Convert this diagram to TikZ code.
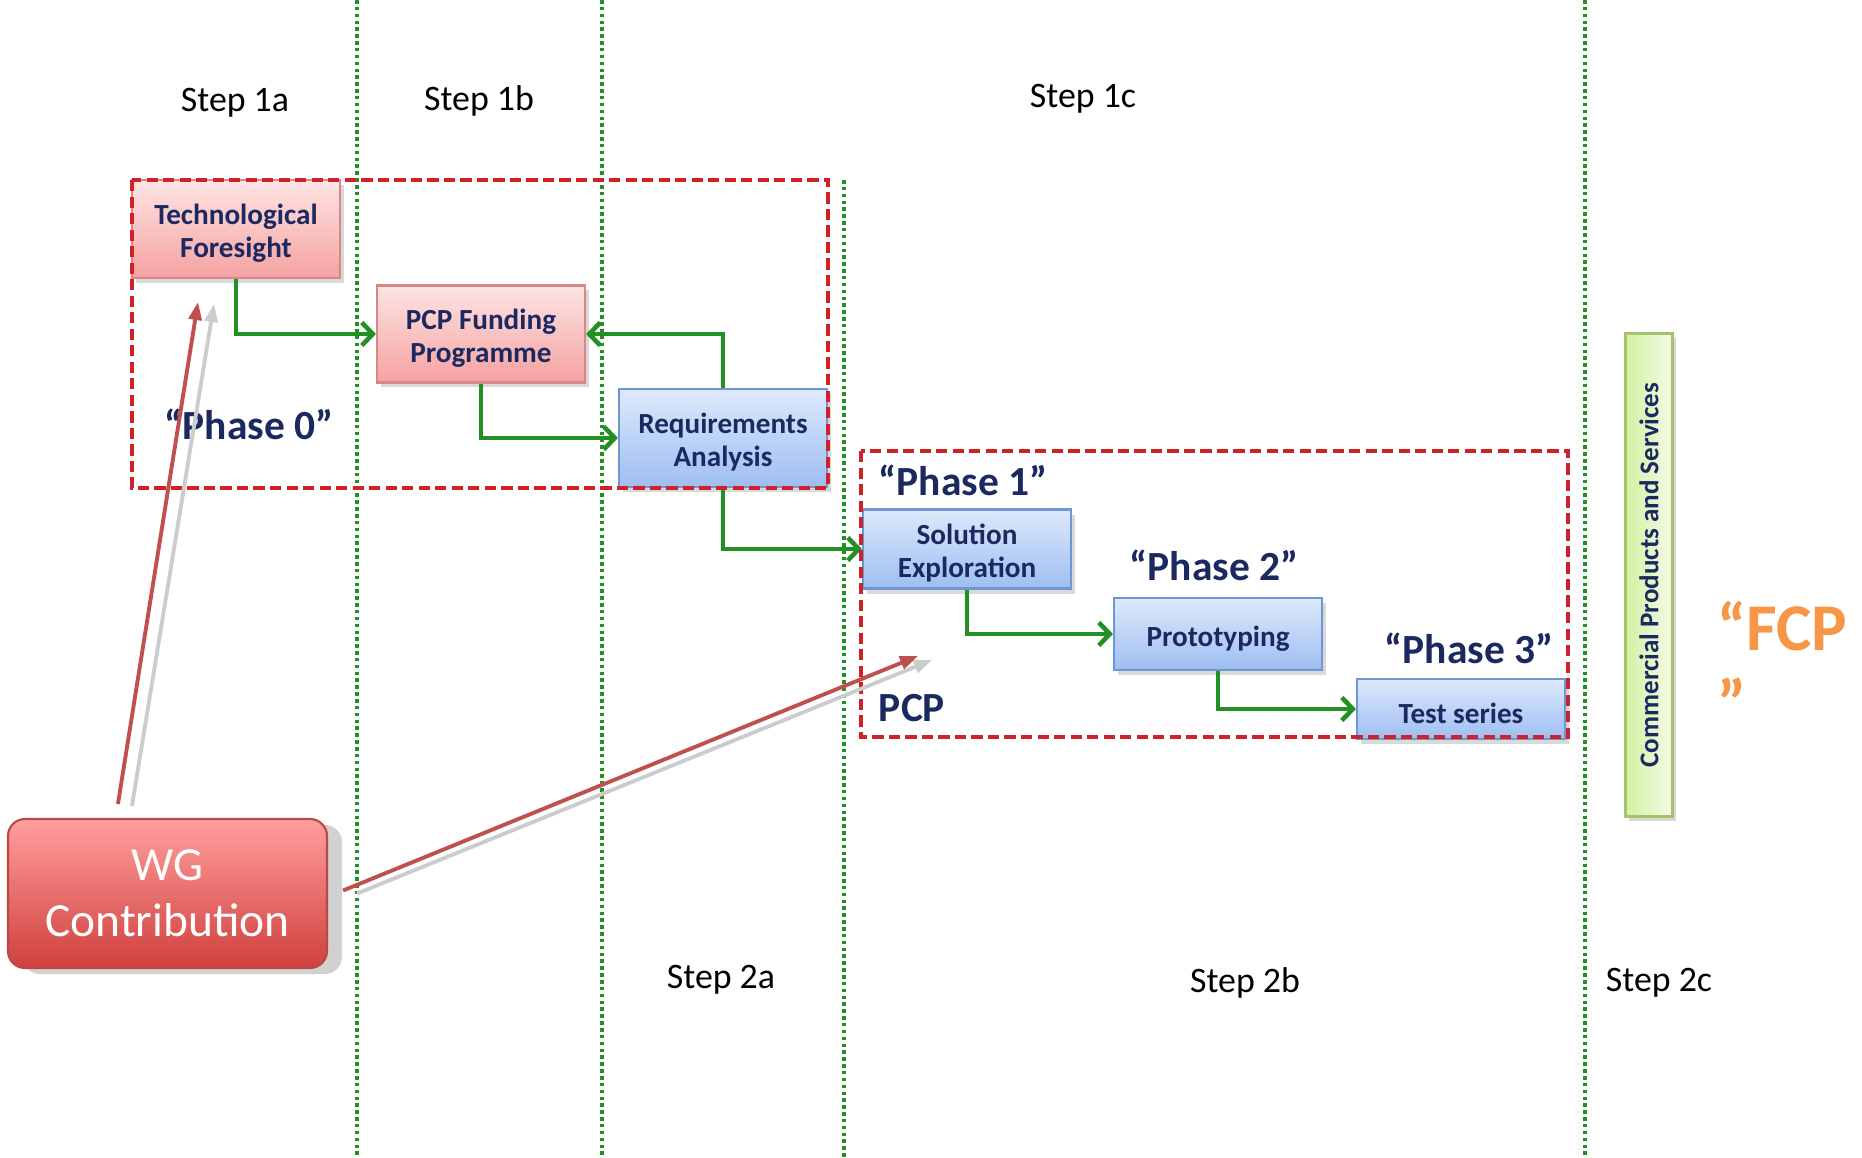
\documentclass[tikz,border=0pt]{standalone}
\usepackage{fontspec}
\setmainfont{Carlito}
\usetikzlibrary{arrows.meta,shadows}

\definecolor{navy}{HTML}{1C2860}
\definecolor{pinktop}{HTML}{FEE4E3}
\definecolor{pinkbot}{HTML}{F4A2A1}
\definecolor{pinkline}{HTML}{D58886}
\definecolor{bluetop}{HTML}{DEE9FB}
\definecolor{bluebot}{HTML}{9DBEF2}
\definecolor{blueline}{HTML}{6E96D2}
\definecolor{limetop}{HTML}{F3FBE6}
\definecolor{limebot}{HTML}{D3F1A2}
\definecolor{limeline}{HTML}{A5C46A}
\definecolor{wgtop}{HTML}{FF9F9D}
\definecolor{wgbot}{HTML}{CF403D}
\definecolor{wgline}{HTML}{BC4744}
\definecolor{phasered}{HTML}{D0202A}
\definecolor{flowgreen}{HTML}{239023}
\definecolor{arrowred}{HTML}{C0504D}
\definecolor{fcporange}{HTML}{F79646}

\tikzset{
  box/.style={draw, line width=.6pt, minimum width=2.08cm, inner sep=1pt, align=center,
    font=\fontsize{8.3}{9.4}\selectfont\bfseries, text=navy,
    drop shadow={shadow xshift=.04cm, shadow yshift=-.05cm, opacity=.3}},
  twoline/.style={text height=17.7pt},
  oneline/.style={text height=8.3pt},
  pinkbox/.style={box, draw=pinkline, top color=pinktop, bottom color=pinkbot},
  bluebox/.style={box, draw=blueline, top color=bluetop, bottom color=bluebot},
  steplabel/.style={font=\fontsize{10.2}{12}\selectfont},
  phaselabel/.style={font=\fontsize{11.8}{14}\selectfont\bfseries, text=navy},
  stepline/.style={flowgreen, line width=1pt, dash pattern=on 1pt off 0.95pt},
  phasebox/.style={phasered, line width=1.1pt, dash pattern=on 3.2pt off 1.5pt},
  flow/.style={flowgreen, line width=1.3pt, -{Straight Barb[length=1.1mm,width=2.3mm]}},
  wgarrow/.style={arrowred, line width=1.1pt, -{Triangle[length=1.8mm,width=1.3mm]}},
  wgshadow/.style={black!20, line width=1.1pt, -{Triangle[length=1.8mm,width=1.3mm]}}
}

\begin{document}
\begin{tikzpicture}
\useasboundingbox (0,0) rectangle (18.62,-11.58);

\foreach \x in {3.57, 6.02, 15.85}
	\draw[stepline] (\x,0) -- (\x,-11.58);
\draw[stepline] (8.44,-1.80) -- (8.44,-11.58);

\node[steplabel] (s1a) at (2.35,-1.03) {Step 1a};
\node[steplabel] (s1b) at (4.79,-1.01) {Step 1b};
\node[steplabel] (s1c) at (10.83,-0.99) {Step 1c};
\node[steplabel] (s2a) at (7.21,-9.80) {Step 2a};
\node[steplabel] (s2b) at (12.45,-9.83) {Step 2b};
\node[steplabel] (s2c) at (16.59,-9.83) {Step 2c};

% phase 0
\node[pinkbox, twoline, minimum height=.98cm] (tf) at (2.36,-2.29) {Technological\\Foresight};
\node[pinkbox, twoline, minimum height=.97cm] (pcpfp) at (4.81,-3.34) {PCP Funding\\Programme};
\node[bluebox, twoline, minimum height=.98cm] (ra) at (7.23,-4.38) {Requirements\\Analysis};

% PCP phases
\node[bluebox, twoline, minimum height=.79cm] (se) at (9.67,-5.49) {Solution\\Exploration};
\node[bluebox, oneline, minimum height=.72cm] (proto) at (12.18,-6.34) {Prototyping};
\node[bluebox, oneline, minimum height=.60cm] (ts) at (14.61,-7.09) {Test series};

\draw[flow] (tf.south) |- (pcpfp.west);
\draw[flow] (ra.north) |- (pcpfp.east);
\draw[flow] (pcpfp.south) |- (ra.west);
\draw[flow] (ra.south) |- (se.west);
\draw[flow] (se.south) |- (proto.west);
\draw[flow] (proto.south) |- (ts.west);

\draw[phasebox] (1.32,-1.80) rectangle (8.28,-4.88);
\draw[phasebox] (8.61,-4.51) rectangle (15.68,-7.37);

\node[phaselabel] (ph0) at (2.49,-4.24) {“Phase 0”};
\node[phaselabel] (ph1) at (9.63,-4.80) {“Phase 1”};
\node[phaselabel] (ph2) at (12.14,-5.65) {“Phase 2”};
\node[phaselabel] (ph3) at (14.69,-6.48) {“Phase 3”};
\node[phaselabel] (pcp) at (9.12,-7.08) {PCP};

\node[draw=limeline, line width=.6pt, rotate=90, left color=limebot, right color=limetop,
  minimum width=4.83cm, minimum height=.47cm, inner sep=1pt,
  font=\fontsize{7.7}{9}\selectfont\bfseries, text=navy,
  drop shadow={shadow xshift=.03cm, shadow yshift=-.04cm, opacity=.3}] (cps) at (16.49,-5.75)
  {Commercial Products and Services};

\node[anchor=west, align=left, text=fcporange, font=\fontsize{19}{21.5}\selectfont\bfseries] (fcp)
  at (17.05,-6.64) {“FCP\\”};

% WG contribution
\node[draw=wgline, line width=.6pt, rounded corners=.17cm, top color=wgtop, bottom color=wgbot,
  minimum width=3.19cm, minimum height=1.49cm, align=center, text=white,
  font=\fontsize{13.5}{16}\selectfont,
  drop shadow={shadow xshift=.15cm, shadow yshift=-.06cm, fill=black!18, opacity=1}] (wg)
  at (1.675,-8.935) {WG\\Contribution};

\coordinate (tfaim) at (1.98,-3.02);
\coordinate (pcpaim) at (9.18,-6.56);
\draw[wgshadow] ([shift={(1.25,0.12)}]wg.north west) -- ([shift={(0.16,-0.02)}]tfaim);
\draw[wgshadow] ([shift={(0.29,0.0)}]wg.east) -- ([shift={(0.14,-0.04)}]pcpaim);
\draw[wgarrow] ([shift={(1.11,0.14)}]wg.north west) -- (tfaim);
\draw[wgarrow] ([shift={(0.15,0.03)}]wg.east) -- (pcpaim);

\end{tikzpicture}
\end{document}
